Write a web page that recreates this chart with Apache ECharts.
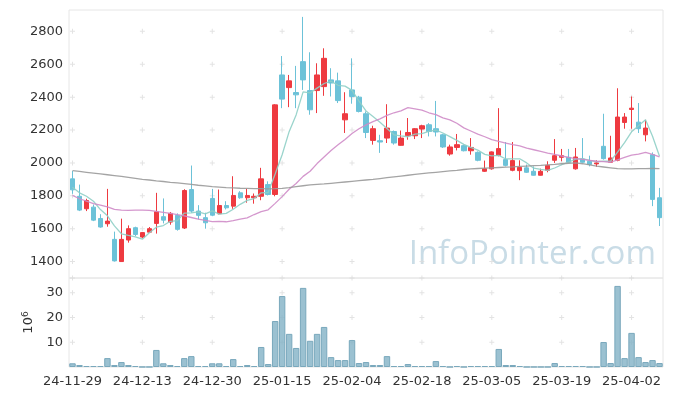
<!DOCTYPE html>
<html><head><meta charset="utf-8">
<script src="https://cdn.jsdelivr.net/npm/echarts@6/dist/echarts.min.js"></script>
<style>html,body{margin:0;padding:0;background:#fff}#c{width:673px;height:396px}</style>
</head><body><div id="c"></div>
<script>
const dates = ['24-11-29',
'24-12-02','24-12-03','24-12-04','24-12-05','24-12-06','24-12-09','24-12-10','24-12-11','24-12-12','24-12-13',
'24-12-16','24-12-17','24-12-18','24-12-19','24-12-20','24-12-23','24-12-24','24-12-26','24-12-27','24-12-30',
'25-01-02','25-01-03','25-01-06','25-01-07','25-01-08','25-01-09','25-01-10','25-01-13','25-01-14','25-01-15',
'25-01-16','25-01-17','25-01-20','25-01-21','25-01-22','25-01-23','25-01-24','25-01-31','25-02-03','25-02-04',
'25-02-05','25-02-06','25-02-07','25-02-10','25-02-11','25-02-12','25-02-13','25-02-14','25-02-17','25-02-18',
'25-02-19','25-02-20','25-02-21','25-02-24','25-02-25','25-02-26','25-02-27','25-02-28','25-03-04','25-03-05',
'25-03-06','25-03-07','25-03-10','25-03-11','25-03-12','25-03-13','25-03-14','25-03-17','25-03-18','25-03-19',
'25-03-20','25-03-21','25-03-24','25-03-25','25-03-26','25-03-27','25-03-28','25-03-31','25-04-01','25-04-02',
'25-04-03','25-04-04','25-04-07','25-04-08'];

const opens = [1903,1797,1721,1731,1662,1630,1535,1400,1531,1606,1549,1579,1632,1673,1640,1681,1604,1838,1707,1667,
1784,1691,1741,1737,1818,1788,1788,1797,1868,1808,2535,2458,2428,2616,2440,2440,2464,2505,2499,2262,
2444,2400,2299,2137,2135,2151,2191,2107,2165,2165,2206,2232,2208,2171,2054,2094,2105,2074,2064,1949,
1964,2046,2020,1955,1953,1970,1949,1925,1955,2016,2034,2034,1964,2024,2010,1994,2101,2004,2016,2246,
2325,2248,2171,2050,1788];
const closes = [1836,1713,1771,1652,1610,1646,1404,1535,1600,1565,1576,1600,1703,1652,1693,1596,1832,1707,1681,1636,
1682,1741,1727,1802,1788,1802,1797,1903,1808,2353,2388,2499,2414,2505,2323,2535,2636,2486,2379,2299,
2404,2313,2185,2208,2127,2212,2121,2151,2185,2208,2226,2191,2188,2097,2097,2111,2074,2094,2016,1965,
2067,2087,1985,2014,1973,1943,1925,1949,1985,2044,2044,2004,2036,2004,1990,2000,2026,2030,2279,2279,
2333,2208,2212,1778,1667];
const lows = [1812,1707,1707,1646,1606,1612,1400,1400,1515,1555,1541,1576,1570,1632,1624,1588,1598,1697,1656,1600,
1676,1687,1717,1721,1782,1758,1752,1773,1802,1797,2333,2339,2333,2444,2293,2303,2408,2404,2364,2182,
2360,2307,2151,2111,2061,2121,2111,2105,2141,2145,2151,2161,2161,2091,2044,2076,2070,2050,2010,1945,
1959,2040,1979,1949,1895,1939,1923,1923,1943,2000,2010,2000,1959,2000,1979,1976,2020,2000,2010,2208,
2208,2182,2131,1737,1616];
const highs = [1951,1868,1782,1747,1688,1842,1582,1661,1620,1612,1579,1610,1818,1784,1701,1693,1840,1984,1743,1697,
1842,1838,1767,1919,1828,1842,1814,1970,1888,2357,2650,2535,2590,2888,2673,2606,2697,2576,2549,2430,
2636,2408,2313,2226,2171,2357,2197,2197,2273,2212,2232,2242,2377,2177,2111,2176,2111,2151,2070,2014,
2070,2333,2127,2127,2016,1990,1979,1965,2010,2145,2085,2085,2091,2151,2044,2016,2299,2165,2454,2303,
2404,2364,2262,2064,1848];
const volumes = [1.5,0.8,0.4,0.4,0.4,3.6,0.8,2.0,0.8,0.4,0.02,0.02,6.9,1.5,0.8,0.4,3.6,4.4,0.4,0.4,
1.5,1.5,0.4,3.2,0.4,0.8,0.4,8.1,1.2,18.6,28.7,13.4,7.7,32.0,10.6,13.4,16.2,4.0,2.8,2.8,
10.9,1.6,2.0,0.8,0.8,4.4,0.4,0.4,1.2,0.4,0.4,0.4,2.4,0.4,0.02,0.4,0.02,0.4,0.4,0.4,
0.4,7.3,0.8,0.8,0.4,0.02,0.02,0.02,0.02,1.6,0.4,0.4,0.4,0.4,0.02,0.02,10.1,1.6,32.8,3.6,
13.8,4.0,2.0,2.8,1.6];
const ma5 = [1852,1818,1797,1767,1716,1678,1617,1569,1559,1550,1536,1575,1609,1619,1645,1649,1695,1696,1702,1690,
1708,1689,1693,1718,1748,1772,1783,1818,1820,1933,2050,2190,2292,2432,2426,2455,2483,2497,2472,2467,
2441,2376,2316,2282,2247,2209,2171,2164,2159,2175,2178,2192,2200,2182,2160,2137,2113,2095,2078,2052,
2043,2046,2024,2024,2025,2000,1968,1961,1955,1969,1989,2005,2023,2026,2016,2007,2011,2010,2065,2123,
2189,2226,2262,2162,2040];
const ma20 = [1802,1782,1767,1753,1743,1733,1717,1713,1711,1713,1713,1711,1705,1699,1693,1685,1678,1668,1658,1650,
1643,1644,1642,1649,1658,1666,1686,1704,1715,1754,1795,1840,1875,1918,1949,1996,2036,2075,2110,2143,
2179,2208,2231,2251,2268,2289,2305,2317,2336,2329,2321,2305,2294,2274,2262,2241,2213,2194,2175,2159,
2142,2131,2121,2111,2103,2090,2080,2070,2060,2052,2042,2033,2026,2021,2016,2010,2008,2004,2018,2033,
2047,2053,2064,2052,2037];
const ma60 = [1953,1948,1943,1938,1933,1928,1923,1918,1912,1906,1900,1896,1891,1887,1882,1878,1874,1869,1864,1860,
1856,1853,1850,1848,1846,1845,1844,1843,1842,1843,1845,1850,1856,1861,1866,1869,1872,1876,1880,1884,
1888,1892,1896,1900,1905,1910,1915,1920,1925,1930,1935,1939,1943,1947,1951,1955,1960,1964,1966,1968,
1970,1972,1974,1976,1979,1981,1983,1985,1988,1991,1995,1998,2000,1995,1988,1980,1975,1970,1965,1964,
1964,1965,1965,1966,1965];
const priceTicks = [1400,1600,1800,2000,2200,2400,2600,2800];
const volTicks = [10,20,30];
const labelEvery = 10;

const FONT = 'DejaVu Sans';
const candleData = dates.map((d, i) => [opens[i], closes[i], lows[i], highs[i]]);
const markIdx = dates.map((d, i) => i).filter(i => i % labelEvery === 0);
const plusMain = [];
markIdx.forEach(i => { priceTicks.concat([1300]).forEach(v => plusMain.push([i, v])); });
const plusVol = [];
markIdx.forEach(i => { volTicks.forEach(v => plusVol.push([i, v])); });
const PLUS = 'path://M2,0H3V5H2Z M0,2H5V3H0Z';

const chart = echarts.init(document.getElementById('c'), null, {renderer: 'canvas'});
chart.setOption({
  animation: false,
  backgroundColor: '#fff',
  textStyle: {fontFamily: FONT},
  grid: [
    {left: 69, right: 10, top: 10, height: 268, show: true, borderColor: '#e6e6e6', borderWidth: 1},
    {left: 69, right: 10, top: 278, height: 89, show: true, borderColor: '#e6e6e6', borderWidth: 1}
  ],
  xAxis: [
    {type: 'category', data: dates, gridIndex: 0, boundaryGap: true,
     axisLine: {show: false}, axisTick: {show: false}, axisLabel: {show: false}, splitLine: {show: false}},
    {type: 'category', data: dates, gridIndex: 1, boundaryGap: true,
     axisLine: {show: false}, axisTick: {show: false}, splitLine: {show: false},
     axisLabel: {interval: labelEvery - 1, color: '#333', fontSize: 13, fontFamily: FONT, margin: 8}}
  ],
  yAxis: [
    {type: 'value', gridIndex: 0, min: 1300, max: 2930, interval: 100, scale: true,
     axisLine: {show: false}, axisTick: {show: false}, splitLine: {show: false},
     axisLabel: {color: '#333', fontSize: 13, fontFamily: FONT, margin: 6,
       formatter: v => (priceTicks.indexOf(v) >= 0 ? String(v) : '')}},
    {type: 'value', gridIndex: 1, min: 0, max: 36, interval: 10,
     axisLine: {show: false}, axisTick: {show: false}, splitLine: {show: false},
     name: '{a|10}{b|6}', nameLocation: 'middle', nameRotate: 90, nameGap: 30,
     nameTextStyle: {color: '#333', rich: {a: {fontSize: 13, fontFamily: FONT, color: '#333'},
       b: {fontSize: 9, fontFamily: FONT, color: '#333', padding: [0, 0, 7, 0]}}},
     axisLabel: {color: '#333', fontSize: 13, fontFamily: FONT, margin: 6,
       formatter: v => (volTicks.indexOf(v) >= 0 ? String(v) : '')}}
  ],
  graphic: [{
    type: 'text', z: 0, silent: true,
    style: {x: 656, y: 255, text: 'InfoPointer.com', textAlign: 'right', textVerticalAlign: 'middle',
      font: '33px "Open Sans"', fill: 'rgba(165,196,214,0.6)'}
  }],
  series: [
    {type: 'scatter', xAxisIndex: 0, yAxisIndex: 0, data: plusMain, symbol: PLUS, symbolSize: 5,
     itemStyle: {color: '#dcdcdc'}, silent: true, clip: false, z: 1},
    {type: 'scatter', xAxisIndex: 1, yAxisIndex: 1, data: plusVol, symbol: PLUS, symbolSize: 5,
     itemStyle: {color: '#dcdcdc'}, silent: true, clip: false, z: 1},
    {type: 'candlestick', xAxisIndex: 0, yAxisIndex: 0, data: candleData, barWidth: '70%', z: 3,
     itemStyle: {color: '#ee3a40', color0: '#6cc2d8', borderColor: '#ee3a40', borderColor0: '#6cc2d8', borderWidth: 1}},
    {type: 'line', xAxisIndex: 0, yAxisIndex: 0, data: ma5, symbol: 'none', z: 4,
     lineStyle: {color: '#8fcfc6', width: 1.3, opacity: 0.9}},
    {type: 'line', xAxisIndex: 0, yAxisIndex: 0, data: ma20, symbol: 'none', z: 4,
     lineStyle: {color: '#cf8cc8', width: 1.3, opacity: 0.9}},
    {type: 'line', xAxisIndex: 0, yAxisIndex: 0, data: ma60, symbol: 'none', z: 4,
     lineStyle: {color: '#9a9a9a', width: 1.3, opacity: 0.9}},
    {type: 'bar', xAxisIndex: 1, yAxisIndex: 1, data: volumes, barCategoryGap: '8%', z: 3,
     itemStyle: {color: 'rgba(130,178,198,0.8)', borderColor: '#79a8bc', borderWidth: 1}}
  ]
});
</script></body></html>
